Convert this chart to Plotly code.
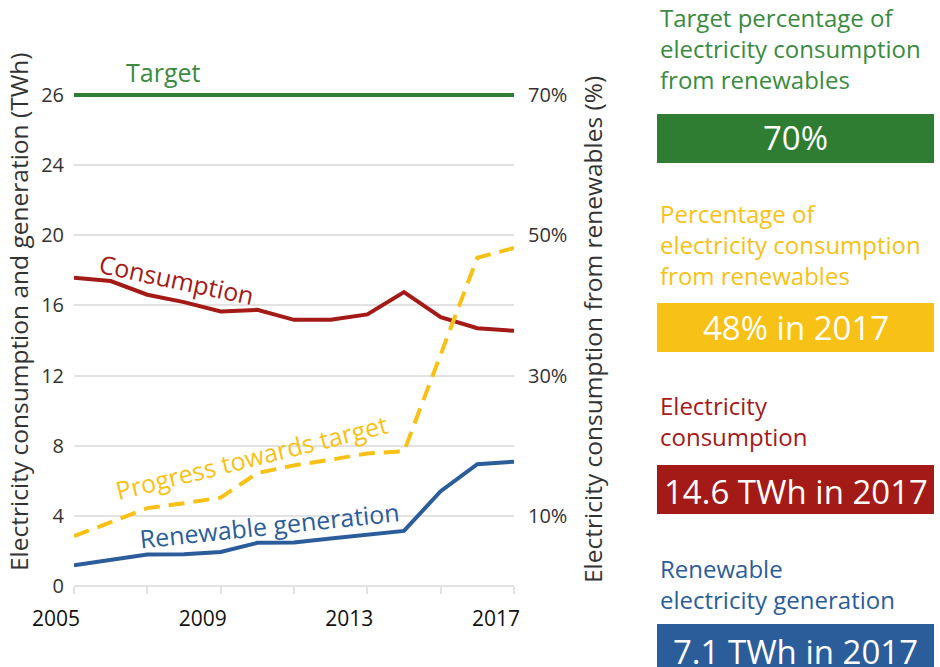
import plotly.graph_objects as go

# ---------------- data ----------------
years = list(range(2005, 2018))
consumption_twh = [17.58, 17.39, 16.61, 16.19, 15.66, 15.75, 15.18, 15.18, 15.49, 16.76, 15.33, 14.70, 14.55]
renewable_twh = [1.18, 1.51, 1.79, 1.81, 1.94, 2.46, 2.48, 2.71, 2.90, 3.14, 5.41, 6.95, 7.09]
renewable_share_pct = [7.1, 9.1, 11.1, 11.8, 12.6, 16.1, 17.2, 18.0, 18.9, 19.2, 33.2, 46.8, 48.2]
target_pct = 70

left_tickvals = [0, 4, 8, 12, 16, 20, 24, 28]
left_ticktext = ["0", "4", "8", "12", "16", "20", "24", "26"]
right_tickvals = [10, 30, 50, 70]
right_ticktext = ["10%", "30%", "50%", "70%"]
x_label_years = [2005, 2009, 2013, 2017]
x_minor_years = [2007, 2011, 2015]

panel_titles = [
    ["Target percentage of", "electricity consumption", "from renewables"],
    ["Percentage of", "electricity consumption", "from renewables"],
    ["Electricity", "consumption"],
    ["Renewable", "electricity generation"],
]
panel_values = ["70%", "48% in 2017", "14.6 TWh in 2017", "7.1 TWh in 2017"]

# ---------------- style ----------------
GREEN = "#2e7d32"
GREEN_TXT = "#3a8b3f"
YELLOW = "#f7c115"
RED = "#a31a17"
BLUE = "#2b5d9b"
GRID = "#e2e2e2"
FONT = "Open Sans"

W, H = 940, 667
L, R, T, B = 74, 426, 88, 81
PW, PH = W - L - R, H - T - B


def px(x):
    return (x - L) / PW


def py(y):
    return (H - B - y) / PH


fig = go.Figure()

fig.add_trace(go.Scatter(x=years, y=consumption_twh, mode="lines",
                         line=dict(color=RED, width=4), yaxis="y", hoverinfo="skip"))
fig.add_trace(go.Scatter(x=years, y=renewable_twh, mode="lines",
                         line=dict(color=BLUE, width=4), yaxis="y", hoverinfo="skip"))
fig.add_trace(go.Scatter(x=[years[0], years[-1]], y=[target_pct, target_pct], mode="lines",
                         line=dict(color=GREEN, width=4), yaxis="y2", hoverinfo="skip"))
fig.add_trace(go.Scatter(x=years, y=renewable_share_pct, mode="lines",
                         line=dict(color=YELLOW, width=4, dash="16px,9px"), yaxis="y2", hoverinfo="skip"))

fig.update_layout(
    width=W, height=H,
    margin=dict(l=L, r=R, t=T, b=B),
    paper_bgcolor="white", plot_bgcolor="white",
    showlegend=False,
    font=dict(family=FONT, color="#333333"),
    xaxis=dict(
        range=[years[0], years[-1]],
        tickvals=x_label_years, ticktext=[str(y) for y in x_label_years],
        ticks="outside", ticklen=7, tickwidth=1.5, tickcolor=GRID,
        ticklabelshift=-18, ticklabelstandoff=7,
        tickfont=dict(size=21, color="#111111", family=FONT),
        minor=dict(tickvals=x_minor_years, ticks="outside", ticklen=7, tickwidth=1.5, tickcolor=GRID, showgrid=False),
        showgrid=False, zeroline=False, showline=False,
    ),
    yaxis=dict(
        range=[0, 28.4],
        tickvals=left_tickvals, ticktext=left_ticktext,
        tickfont=dict(size=20, color="#333333", family=FONT),
        showgrid=True, gridcolor=GRID, gridwidth=2,
        zeroline=True, zerolinecolor=GRID, zerolinewidth=2,
        ticks="", ticklabelstandoff=9,
    ),
    yaxis2=dict(
        range=[0, 71], overlaying="y", side="right",
        tickvals=right_tickvals, ticktext=right_ticktext,
        tickfont=dict(size=20, color="#333333", family=FONT),
        showgrid=False, zeroline=False, ticks="", ticklabelstandoff=13,
    ),
)


def label(text, x, y, size, color, angle=0, xanchor="center", bg=None):
    d = dict(text=text, x=px(x), y=py(y), xref="paper", yref="paper", showarrow=False,
             xanchor=xanchor, yanchor="middle", textangle=angle, align="left",
             font=dict(size=size, color=color, family=FONT))
    if bg:
        d["bgcolor"] = bg
    return d


ann = []
# axis titles
ann.append(label("Electricity consumption and generation (TWh)", 18, 312, 24.5, "#333333", angle=-90))
ann.append(label("Electricity consumption from renewables (%)", 592, 330, 24.5, "#333333", angle=-90))

# in-chart labels
ann.append(label("Target", 163, 72, 25, GREEN_TXT))
ann.append(label("Consumption", 176, 279, 25, RED, angle=12))
ann.append(label("Progress towards target", 251, 457, 25, YELLOW, angle=-14))
ann.append(label("Renewable generation", 269, 525, 25, BLUE, angle=-6))

# right panel
TSIZE = 24
title_centers = [49, 244, 421, 584]
title_colors = [GREEN_TXT, YELLOW, RED, BLUE]
box_colors = [GREEN, YELLOW, RED, BLUE]
box_tops = [114, 303, 465, 624]
box_bottoms = [163, 352, 514, 672]
value_centers = [137.5, 327.5, 491, 651]
shapes = []
for lines, v, yc, tc, bc, bt, bb, vc in zip(panel_titles, panel_values, title_centers, title_colors,
                                         box_colors, box_tops, box_bottoms, value_centers):
    ann.append(label("<br>".join(lines), 658, yc, TSIZE, tc, xanchor="left"))
    shapes.append(dict(type="rect", xref="paper", yref="paper",
                       x0=px(657), x1=px(934), y0=py(bb), y1=py(bt),
                       fillcolor=bc, line=dict(width=0), layer="above"))
    ann.append(label(v, 795.5, vc, 33, "white"))

fig.update_layout(annotations=ann, shapes=shapes)
fig.write_html("out.html", config={"displayModeBar": False},
               post_script="document.body.style.margin='0';document.body.style.overflow='hidden';")
